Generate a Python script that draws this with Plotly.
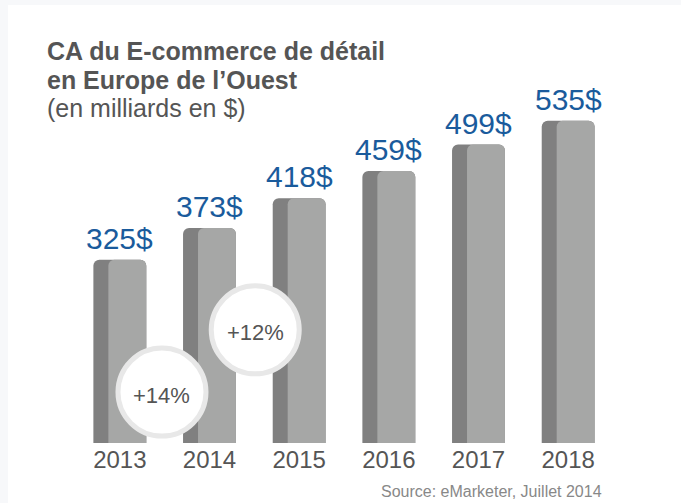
import plotly.graph_objects as go

years = ["2013", "2014", "2015", "2016", "2017", "2018"]
values = [325, 373, 418, 459, 499, 535]
value_labels = ["325$", "373$", "418$", "459$", "499$", "535$"]
growth_labels = ["+14%", "+12%"]
growth_between = [0, 1]          # circle sits between year i and i+1
growth_level = [125, 219]        # vertical level of circle centre (data units)
title_lines = ["<b>CA du E-commerce de détail</b>", "<b>en Europe de l’Ouest</b>",
               "(en milliards en $)"]

x = list(range(len(years)))
FONT = "Liberation Sans, Arial, sans-serif"
DARK = "#808080"
LIGHT = "#a6a7a6"
BLUE = "#1a5b9c"
GREY_TXT = "#555555"

W_FULL = 0.59
W_STRIP = 0.167

# plot area in page pixels: left 75, right 613, top 40, bottom 443
def px(page_x):
    return (page_x - 75) / 538

def py(page_y):
    return (443 - page_y) / 403

fig = go.Figure()
fig.add_trace(go.Bar(
    x=x, y=values, width=W_FULL, offset=-W_FULL / 2,
    marker=dict(color=DARK, cornerradius=6, line=dict(width=0)),
    hoverinfo="skip",
))
fig.add_trace(go.Bar(
    x=x, y=values, width=W_FULL - W_STRIP, offset=-W_FULL / 2 + W_STRIP,
    marker=dict(color=LIGHT, cornerradius=6, line=dict(width=0)),
    hoverinfo="skip",
))

shapes = []
annotations = []
for xi, v, lab in zip(x, values, value_labels):
    annotations.append(dict(x=xi, y=v, xref="x", yref="y", text=lab,
                            showarrow=False, yanchor="bottom", yshift=3,
                            font=dict(family=FONT, size=30, color=BLUE)))

for lab, b, lev in zip(growth_labels, growth_between, growth_level):
    cx = b + 0.47 + 0.04 * b
    shapes.append(dict(type="circle", xref="x", yref="y",
                       xsizemode="pixel", ysizemode="pixel",
                       xanchor=cx, yanchor=lev,
                       x0=-44, x1=44, y0=-44, y1=44,
                       fillcolor="white", line=dict(color="#e8e8e8", width=5),
                       layer="above"))
    annotations.append(dict(x=cx, y=lev, xref="x", yref="y", text=lab,
                            showarrow=False, yshift=-3,
                            font=dict(family=FONT, size=22, color=GREY_TXT)))

for line, yc in zip(title_lines, [51, 80, 108]):
    annotations.append(dict(
        xref="paper", yref="paper", x=px(45), y=py(yc),
        xanchor="left", yanchor="middle", align="left", showarrow=False,
        text=line, font=dict(family=FONT, size=25, color=GREY_TXT)))
annotations.append(dict(
    xref="paper", yref="paper", x=px(604), y=py(492),
    xanchor="right", yanchor="middle", showarrow=False,
    text="Source: eMarketer, Juillet 2014",
    font=dict(family=FONT, size=16, color="#888888")))

# page offset of the figure: 8 px left, 5 px top (light strip as in the reference)
fig.update_layout(
    width=673, height=498,
    margin=dict(l=67, r=68, t=35, b=60),
    barmode="overlay", showlegend=False,
    paper_bgcolor="white", plot_bgcolor="white",
    shapes=shapes, annotations=annotations,
    xaxis=dict(range=[-0.5, 5.5], tickmode="array", tickvals=x, ticktext=years,
               showgrid=False, zeroline=False, showline=False, ticks="",
               tickfont=dict(family=FONT, size=24, color=GREY_TXT)),
    yaxis=dict(range=[48, 657], visible=False, showgrid=False, zeroline=False),
)

fig.write_html(
    "out.html", config={"displayModeBar": False},
    post_script=("document.body.style.backgroundColor='#f7f8fa';"
                 "document.body.style.margin='5px 0 0 8px';"
                 "document.body.style.overflow='hidden';"))
